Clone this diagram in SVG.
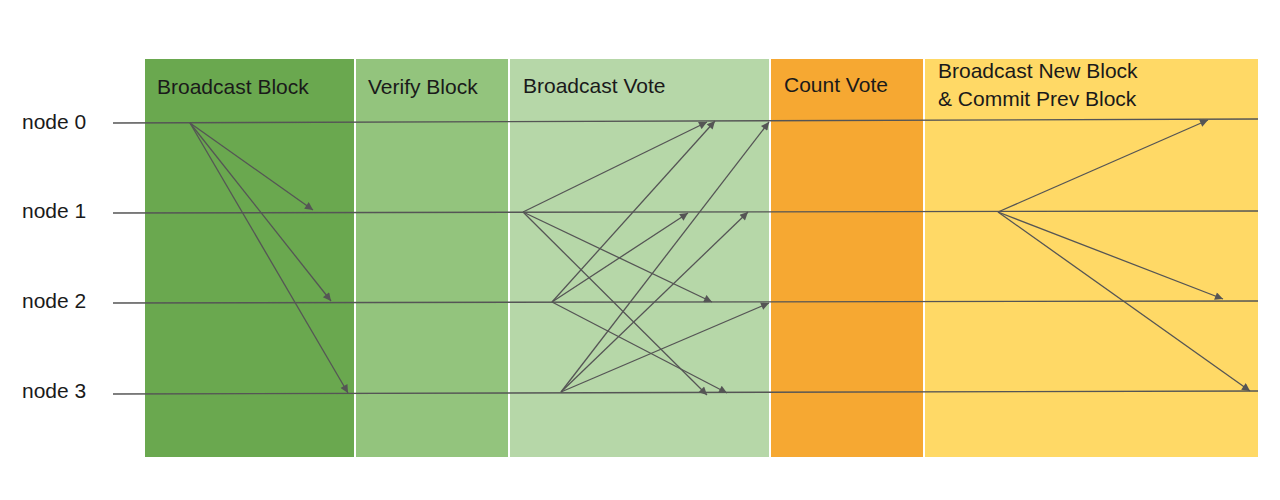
<svg xmlns="http://www.w3.org/2000/svg" width="1280" height="500" viewBox="0 0 1280 500">
<style>
text{font-family:"Liberation Sans",Arial,sans-serif;font-size:21px;fill:#1a1a1a}
.ln{stroke:#555;stroke-width:1.4;fill:none}
.ar{stroke:#555;stroke-width:1.3;fill:none;marker-end:url(#ah)}
</style>
<defs><marker id="ah" viewBox="0 0 10 10" refX="10" refY="5" markerWidth="10" markerHeight="8" markerUnits="userSpaceOnUse" orient="auto"><path d="M0,0L10,5L0,10z" fill="#555"/></marker></defs>
<rect width="1280" height="500" fill="#fff"/>
<g id="phase-broadcast-block"><rect x="145" y="59" width="209" height="398" fill="#6aa84f"/><text x="157" y="94">Broadcast Block</text></g>
<g id="phase-verify-block"><rect x="356" y="59" width="152" height="398" fill="#93c47d"/><text x="368" y="94">Verify Block</text></g>
<g id="phase-broadcast-vote"><rect x="510" y="59" width="259" height="398" fill="#b6d7a8"/><text x="523" y="93">Broadcast Vote</text></g>
<g id="phase-count-vote"><rect x="771" y="59" width="152" height="398" fill="#f6a832"/><text x="784" y="92">Count Vote</text></g>
<g id="phase-new-block"><rect x="925" y="59" width="333" height="398" fill="#ffd966"/><text x="938" y="78">Broadcast New Block</text><text x="938" y="106">&amp; Commit Prev Block</text></g>
<g id="node0"><text x="22" y="129">node 0</text><line class="ln" x1="113" y1="123" x2="1258" y2="119"/></g>
<g id="node1"><text x="22" y="218">node 1</text><line class="ln" x1="113" y1="213" x2="1258" y2="211"/></g>
<g id="node2"><text x="22" y="308">node 2</text><line class="ln" x1="113" y1="303" x2="1258" y2="301"/></g>
<g id="node3"><text x="22" y="398">node 3</text><line class="ln" x1="113" y1="394" x2="1258" y2="391"/></g>
<g id="connectors">
<line class="ar" x1="190" y1="123" x2="313" y2="210"/>
<line class="ar" x1="190" y1="123" x2="331" y2="301"/>
<line class="ar" x1="190" y1="123" x2="348" y2="393"/>
<line class="ar" x1="523" y1="212" x2="707" y2="122"/>
<line class="ar" x1="523" y1="212" x2="712" y2="302"/>
<line class="ar" x1="523" y1="212" x2="707" y2="395"/>
<line class="ar" x1="552" y1="302" x2="715" y2="121"/>
<line class="ar" x1="552" y1="302" x2="688" y2="213"/>
<line class="ar" x1="552" y1="302" x2="727" y2="393"/>
<line class="ar" x1="561" y1="392" x2="769" y2="122"/>
<line class="ar" x1="561" y1="392" x2="748" y2="212"/>
<line class="ar" x1="561" y1="392" x2="769" y2="303"/>
<line class="ar" x1="998" y1="212" x2="1208" y2="120"/>
<line class="ar" x1="998" y1="212" x2="1223" y2="299"/>
<line class="ar" x1="998" y1="212" x2="1250" y2="391"/>
</g>
</svg>
